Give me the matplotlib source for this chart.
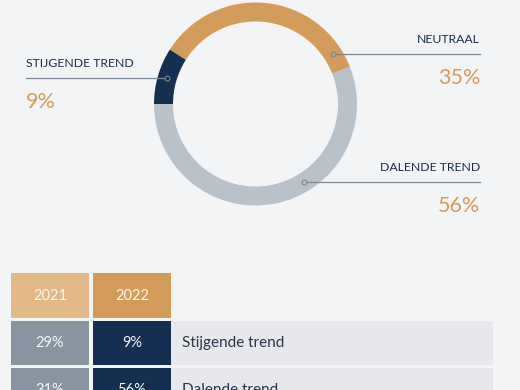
import numpy as np
import matplotlib.pyplot as plt
from matplotlib.patches import Rectangle

plt.rcParams['font.family'] = ['Lato', 'DejaVu Sans']

# donut (2022)
trend_labels = ["DALENDE TREND", "NEUTRAAL", "STIJGENDE TREND"]
trend_values = [56, 35, 9]
trend_colors = ["#bac2c9", "#d49c5b", "#142f4f"]

# table
years = ["2021", "2022"]
row_labels = ["Stijgende trend", "Dalende trend"]
values_2021 = [29, 31]
values_2022 = [9, 56]

bg = "#f3f4f6"
navy = "#1c2b44"
orange = "#d49c5b"
line_col = "#7d8796"

W, H = 520, 390
fig = plt.figure(figsize=(W / 100, H / 100), dpi=100, facecolor=bg)
ax = fig.add_axes([0, 0, 1, 1])
ax.set_facecolor(bg)

def Y(y):  # image row -> axes y
    return H - y

cx, cy = 255.5, Y(104)
r_out, ring = 101.5, 19
ax.pie(trend_values, colors=trend_colors, startangle=180, counterclock=True,
       radius=r_out, center=(cx, cy),
       wedgeprops=dict(width=ring, linewidth=0))
ax.set_xlim(0, W)
ax.set_ylim(0, H)
ax.set_aspect('equal')
ax.axis('off')

r_mid = r_out - ring / 2
# label position: (line row, side, text x)
label_pos = {
    "STIJGENDE TREND": (78, -1, 26),
    "NEUTRAAL": (54, 1, 480),
    "DALENDE TREND": (182, 1, 480),
}
for lab, val in zip(trend_labels, trend_values):
    ly, side, tx = label_pos[lab]
    dy = Y(ly) - cy
    ax_x = cx + side * np.sqrt(r_mid ** 2 - dy ** 2)
    ha = 'left' if side < 0 else 'right'
    ax.plot([tx, ax_x], [Y(ly), Y(ly)], color=line_col, lw=0.9, zorder=3)
    ax.plot(ax_x, Y(ly), 'o', ms=3.5, mfc=trend_colors[trend_labels.index(lab)],
            mec=line_col, mew=0.8, zorder=4)
    ax.text(tx, Y(ly) + 11, lab, ha=ha, va='baseline', color=navy, fontsize=8.8)
    ax.text(tx, Y(ly) - 30, f"{val}%", ha=ha, va='baseline', color=orange,
            fontsize=15.5)

# table
col_x = [11, 93]
col_w = 78
label_x0, label_x1 = 171, 493
head_colors = ["#e3b98a", "#d49c5b"]
cell_colors = ["#8994a1", "#142f4f"]
for x, yr, hc in zip(col_x, years, head_colors):
    ax.add_patch(Rectangle((x, Y(318)), col_w, 45, color=hc, lw=0))
    ax.text(x + col_w / 2, Y(296), yr, ha='center', va='center', color='#fbf6ef',
            fontsize=10.5)

row_top = [321, 368]
row_h = 44
for i, top in enumerate(row_top):
    ax.add_patch(Rectangle((label_x0, Y(top + row_h)), label_x1 - label_x0, row_h,
                           color="#e7e8eb", lw=0))
    for x, vals, cc in zip(col_x, [values_2021, values_2022], cell_colors):
        ax.add_patch(Rectangle((x, Y(top + row_h)), col_w, row_h, color=cc, lw=0))
        ax.text(x + col_w / 2, Y(top + row_h / 2), f"{vals[i]}%", ha='center',
                va='center', color='#f4f5f7', fontsize=10.5)
    ax.text(182, Y(top + row_h / 2), row_labels[i], ha='left', va='center',
            color="#2a3548", fontsize=11)

fig.savefig("out.png", dpi=100, facecolor=bg)
